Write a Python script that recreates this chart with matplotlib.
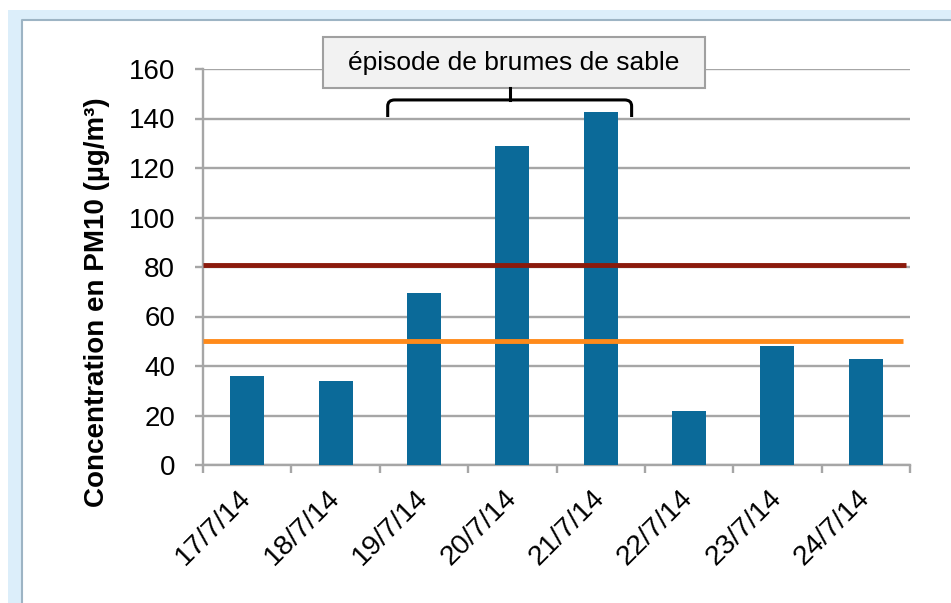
import matplotlib.pyplot as plt
import matplotlib.patches as patches
from matplotlib.path import Path
import numpy as np

plt.rcParams["font.family"] = ['Liberation Sans', 'DejaVu Sans']

# données
dates = ['17/7/14', '18/7/14', '19/7/14', '20/7/14', '21/7/14', '22/7/14', '23/7/14', '24/7/14']
pm10 = [36, 34, 69.5, 129, 142.5, 22, 48, 43]
seuil_alerte = 81
seuil_info = 50
ticks_y = [0, 20, 40, 60, 80, 100, 120, 140, 160]
episode_label = 'épisode de brumes de sable'

fig = plt.figure(figsize=(9.51, 6.03), dpi=100)

# bordure bleu clair (capture d'écran)
fig.patches.append(patches.Rectangle((8 / 951, 0), 14 / 951, 1 - 10 / 603, transform=fig.transFigure,
                                     facecolor='#dcEEFA', edgecolor='none', zorder=0))
fig.patches.append(patches.Rectangle((8 / 951, 1 - 20 / 603), 1, 10 / 603, transform=fig.transFigure,
                                     facecolor='#dcEEFA', edgecolor='none', zorder=0))
fig.lines.append(plt.Line2D([22 / 951, 22 / 951, 1], [0, 1 - 20 / 603, 1 - 20 / 603],
                            transform=fig.transFigure, color='#9db4c4', lw=1.5))

ax = fig.add_axes([203 / 951, 1 - 465 / 603, 707 / 951, 396 / 603])
x = np.arange(len(dates))

ax.bar(x, pm10, width=0.385, color='#0b6a99', zorder=3)
ax.plot([-0.5, 7.46], [seuil_alerte, seuil_alerte], color='#8b1a0c', lw=3.5, zorder=4, solid_capstyle='butt')
ax.plot([-0.5, 7.42], [seuil_info, seuil_info], color='#ff8a1a', lw=3.5, zorder=4, solid_capstyle='butt')

ax.set_xlim(-0.5, 7.5)
ax.set_ylim(0, 160)
ax.set_yticks(ticks_y)
ax.yaxis.grid(True, color='#a6a6a6', lw=1.7, zorder=0)
ax.set_axisbelow(True)

for s in ['top', 'right']:
    ax.spines[s].set_visible(False)
for s in ['left', 'bottom']:
    ax.spines[s].set_color('#a6a6a6')
    ax.spines[s].set_linewidth(1.7)

ax.set_xticks(x)
ax.set_xticklabels(dates, rotation=45, ha='right', va='center', rotation_mode='anchor', fontsize=20.5)
ax.set_xticks(np.arange(-0.5, 8, 1), minor=True)
ax.tick_params(axis='x', which='major', length=0, pad=21)
ax.tick_params(axis='x', which='minor', length=6, width=1.7, color='#a6a6a6')
ax.tick_params(axis='y', length=6, width=1.7, color='#a6a6a6', labelsize=20, pad=14)

fig.text(97 / 951, 1 - 302 / 603, 'Concentration en PM10 (µg/m³)', rotation=90,
         ha='center', va='center', fontsize=20, fontweight='bold')

# encadré + accolade
box = patches.Rectangle((0.86, 152.3), 4.32, 20.7, facecolor='#f2f2f2', edgecolor='#a0a0a0',
                        lw=1.5, clip_on=False, zorder=5)
ax.add_patch(box)
ax.text(3.02, 162.6, episode_label, ha='center', va='center', fontsize=19, zorder=6, clip_on=False)

x0, x1, xm = 1.59, 4.35, 2.97
yb, yt, r = 140.6, 147.5, 0.08
verts = [(x0, yb), (x0, yt - 2.5), (x0, yt), (x0 + r, yt),
         (x1 - r, yt), (x1, yt), (x1, yt - 2.5), (x1, yb)]
codes = [Path.MOVETO, Path.LINETO, Path.CURVE3, Path.CURVE3,
         Path.LINETO, Path.CURVE3, Path.CURVE3, Path.LINETO]
ax.add_patch(patches.PathPatch(Path(verts, codes), facecolor='none', edgecolor='black',
                               lw=2.2, clip_on=False, zorder=6))
ax.plot([xm, xm], [yt, 152.3], color='black', lw=2.2, clip_on=False, zorder=6)

plt.savefig('out.png', dpi=100)
